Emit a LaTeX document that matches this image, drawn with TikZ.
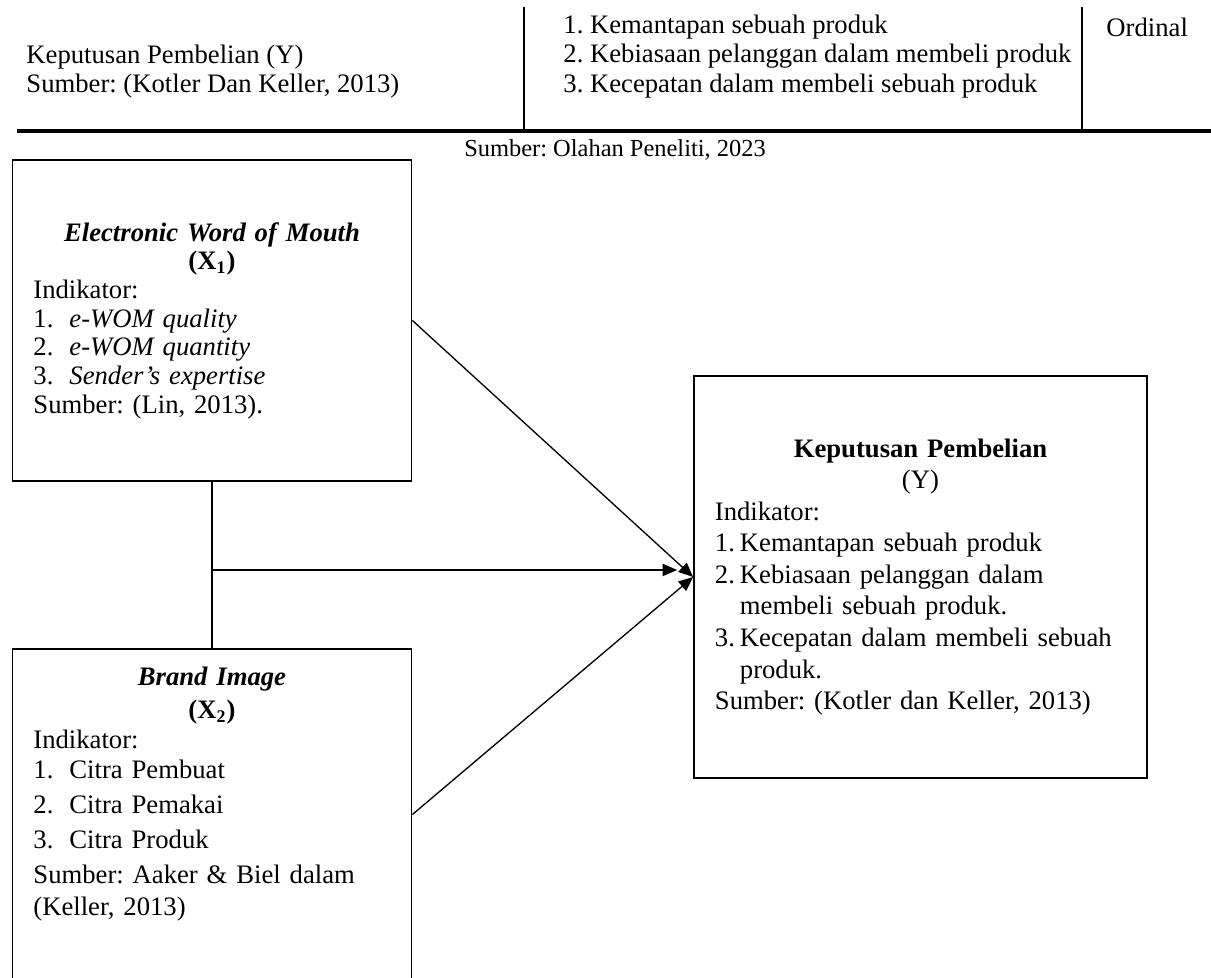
\documentclass[tikz,border=0pt]{standalone}
\usepackage{fontspec}
\setmainfont{Liberation Serif}
\usepackage{tikz}
\usetikzlibrary{positioning}
\usetikzlibrary{calc}
\usetikzlibrary{arrows.meta}
\frenchspacing

\newcommand{\numline}[3]{\makebox[#1][l]{#2}#3}

\begin{document}
\begin{tikzpicture}[x=0.45pt,y=-0.45pt,
    varbox/.style={draw,line width=0.75pt,inner xsep=9.45pt,inner ysep=0pt,align=left},
    txt/.style={inner sep=0pt,align=left},
    conn/.style={line width=0.6pt,-{Triangle[length=6.5pt,width=5.5pt]}},
    rule/.style={line width=0.9pt}]

    \useasboundingbox (0,0) rectangle (1211,978);
    \clip (0,0) rectangle (1211,978);

    % last row of the operational table
    \coordinate (t1) at (524,7);
    \coordinate (t2) at (1082,7);
    \coordinate (rl) at (17,131);
    \coordinate (rr) at (1211,131);
    \draw[rule] (t1) -- (t1 |- rl);
    \draw[rule] (t2) -- (t2 |- rl);
    \draw[line width=1.4pt] (rl) -- (rr);

    \node[txt, anchor=west, font=\fontsize{12}{13.3}\selectfont] (varname) at (26,71.5)
        {Keputusan Pembelian (Y)\\Sumber: (Kotler Dan Keller, 2013)};
    \node[txt, anchor=west, font=\fontsize{12}{13.3}\selectfont] (indlist) at (563,56.5)
        {\numline{12pt}{1.}{Kemantapan sebuah produk}\\
         \numline{12pt}{2.}{Kebiasaan pelanggan dalam membeli produk}\\
         \numline{12pt}{3.}{Kecepatan dalam membeli sebuah produk}};
    \node[txt, anchor=west, font=\fontsize{12}{13.3}\selectfont] (scale) at (1106,27) {Ordinal};

    \node[font=\fontsize{11}{13}\selectfont] (src) at (615,150) {Sumber: Olahan Peneliti, 2023};

    % framework
    \node[varbox, text width=160.7pt, minimum height=144.5pt, font=\fontsize{12}{12.9}\selectfont] (x1) at (212,320.5)
        {{\centering\textbf{\textit{Electronic Word of Mouth}}\\\textbf{(X\textsubscript{1})}\par}
         Indikator:\\
         \numline{16.2pt}{1.}{\textit{e-WOM quality}}\\
         \numline{16.2pt}{2.}{\textit{e-WOM quantity}}\\
         \numline{16.2pt}{3.}{\textit{Sender’s expertise}}\\
         Sumber: (Lin, 2013).};

    \node[varbox, text width=160.7pt, minimum height=149pt] (x2) at (212,814.5) {};
    \node[txt, anchor=north, text width=160.7pt, font=\fontsize{12}{13.5}\selectfont] (x2txt) at ([yshift=-8.1pt]x2.north)
        {{\centering\textbf{\textit{Brand Image}}\\[1.35pt]\textbf{(X\textsubscript{2})}\par}
         Indikator:\\
         \numline{16.2pt}{1.}{Citra Pembuat}\\[2.25pt]
         \numline{16.2pt}{2.}{Citra Pemakai}\\[2.25pt]
         \numline{16.2pt}{3.}{Citra Produk}\\[2.25pt]
         \makebox[160.7pt][s]{Sumber: Aaker \& Biel dalam}\\[0.9pt]
         (Keller, 2013)};

    \node[varbox, text width=185pt, minimum height=180.9pt, font=\fontsize{12}{14.2}\selectfont] (y) at (920.5,577)
        {{\centering\textbf{Keputusan Pembelian}\\(Y)\par}
         Indikator:\\
         \numline{11.25pt}{1.}{Kemantapan sebuah produk}\\
         \numline{11.25pt}{2.}{Kebiasaan pelanggan dalam}\\
         \hspace*{11.25pt}membeli sebuah produk.\\
         \numline{11.25pt}{3.}{Kecepatan dalam membeli sebuah}\\
         \hspace*{11.25pt}produk.\\
         Sumber: (Kotler dan Keller, 2013)};

    \coordinate (jn) at ($(x1.south)!0.53!(x2.north)$);
    \coordinate (jend) at ([xshift=-7.2pt]y.west |- jn);

    \draw[line width=0.5pt] (x1.south) -- (x2.north);
    \draw[conn] (jn) -- (jend);
    \draw[conn] (x1.east) -- (y.west);
    \draw[conn] (x2.east) -- (y.west);
\end{tikzpicture}
\end{document}
